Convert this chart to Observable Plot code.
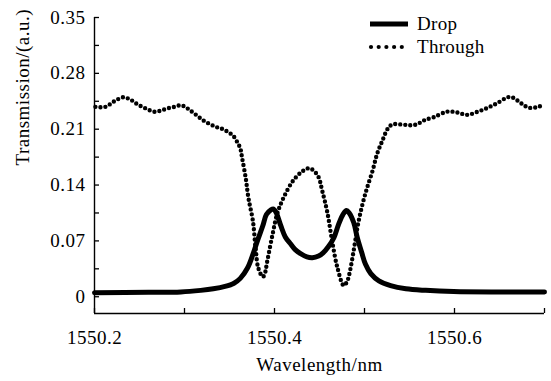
<!DOCTYPE html>
<html>
<head>
<meta charset="utf-8">
<script src="https://cdn.jsdelivr.net/npm/d3@7"></script>
<script src="https://cdn.jsdelivr.net/npm/@observablehq/plot@0.6"></script>
<style>
  body { margin: 0; background: #fff; }
  #wrap { position: relative; width: 551px; height: 381px; font-family: "Liberation Serif", "Times New Roman", serif; }
  #legend { position: absolute; left: 0; top: 0; }
</style>
</head>
<body>
<div id="wrap"></div>
<script>
// ---- data ----
const seriesNames = ["Drop", "Through"];

const dropWavelength = [1550.200, 1550.260, 1550.296, 1550.318, 1550.332, 1550.345, 1550.355, 1550.362, 1550.370, 1550.376, 1550.381,
  1550.387, 1550.391, 1550.396, 1550.399, 1550.402, 1550.407, 1550.412, 1550.418, 1550.423, 1550.429,
  1550.436, 1550.442, 1550.449, 1550.454, 1550.460, 1550.466, 1550.471, 1550.476, 1550.480, 1550.483,
  1550.488, 1550.492, 1550.497, 1550.501, 1550.507, 1550.516, 1550.529, 1550.546, 1550.568, 1550.599,
  1550.651, 1550.700];
const dropValue = [0.005, 0.0055, 0.006, 0.008, 0.010, 0.013, 0.017, 0.023, 0.036, 0.053, 0.070,
  0.089, 0.103, 0.109, 0.110, 0.105, 0.089, 0.075, 0.066, 0.059, 0.054,
  0.050, 0.049, 0.051, 0.055, 0.063, 0.074, 0.090, 0.103, 0.108, 0.105,
  0.093, 0.074, 0.055, 0.041, 0.029, 0.020, 0.014, 0.010, 0.008, 0.0065,
  0.006, 0.006];

const throughWavelength = [1550.201, 1550.212, 1550.222, 1550.232, 1550.240, 1550.248, 1550.257, 1550.266, 1550.273, 1550.281,
  1550.289, 1550.296, 1550.302, 1550.307, 1550.314, 1550.321, 1550.329, 1550.337, 1550.343, 1550.349,
  1550.354, 1550.359, 1550.362, 1550.364, 1550.368, 1550.371, 1550.376, 1550.379, 1550.382, 1550.387,
  1550.389, 1550.392, 1550.398, 1550.403, 1550.410, 1550.421, 1550.432, 1550.439, 1550.448, 1550.453,
  1550.459, 1550.464, 1550.470, 1550.477, 1550.481, 1550.484, 1550.488, 1550.493, 1550.498, 1550.503,
  1550.509, 1550.514, 1550.520, 1550.526, 1550.531, 1550.540, 1550.551, 1550.558, 1550.566, 1550.577,
  1550.592, 1550.603, 1550.614, 1550.626, 1550.637, 1550.648, 1550.659, 1550.664, 1550.670, 1550.676,
  1550.682, 1550.688, 1550.693, 1550.699];
const throughValue = [0.238, 0.238, 0.245, 0.250, 0.247, 0.241, 0.236, 0.232, 0.233, 0.236,
  0.238, 0.240, 0.237, 0.233, 0.227, 0.221, 0.216, 0.212, 0.210, 0.206,
  0.202, 0.193, 0.186, 0.174, 0.149, 0.124, 0.095, 0.061, 0.036, 0.025,
  0.028, 0.045, 0.079, 0.104, 0.124, 0.146, 0.158, 0.161, 0.152, 0.133,
  0.104, 0.070, 0.036, 0.014, 0.020, 0.033, 0.058, 0.092, 0.117, 0.137,
  0.158, 0.179, 0.196, 0.211, 0.216, 0.216, 0.215, 0.216, 0.221, 0.225,
  0.232, 0.231, 0.228, 0.232, 0.237, 0.243, 0.250, 0.250, 0.246, 0.241,
  0.237, 0.237, 0.238, 0.241];

const xMajorTicks = [1550.2, 1550.4, 1550.6];
const xAllTicks = [1550.2, 1550.3, 1550.4, 1550.5, 1550.6, 1550.7];
const yMajorTicks = [0, 0.07, 0.14, 0.21, 0.28, 0.35];
const yAllTicks = [0, 0.035, 0.07, 0.105, 0.14, 0.175, 0.21, 0.245, 0.28, 0.315, 0.35];
const xDomain = [1550.2, 1550.7];
const yDomain = [-0.021, 0.35];
const xLabel = "Wavelength/nm";
const yLabel = "Transmission/(a.u.)";

// ---- build tables ----
const drop = dropWavelength.map((w, i) => ({w, v: dropValue[i]}));
const through = throughWavelength.map((w, i) => ({w, v: throughValue[i]}));

const font = '"Liberation Serif", "Times New Roman", serif';
const fs = 19;

const chart = Plot.plot({
  width: 551,
  height: 381,
  marginLeft: 94,
  marginRight: 7,
  marginTop: 17,
  marginBottom: 68,
  style: {fontFamily: font, fontSize: fs + "px", letterSpacing: "0.5px", color: "#000", background: "#fff"},
  x: {domain: xDomain},
  y: {domain: yDomain},
  marks: [
    // axis lines
    Plot.ruleX([xDomain[0]], {stroke: "#000", strokeWidth: 1.4}),
    Plot.ruleY([yDomain[0]], {stroke: "#000", strokeWidth: 1.4}),
    // inward ticks
    Plot.axisY({ticks: yAllTicks, tickSize: 5, dx: 5, tickFormat: () => "", label: null, strokeWidth: 1.3}),
    Plot.axisX({ticks: xAllTicks, tickSize: 5, dy: -5, tickFormat: () => "", label: null, strokeWidth: 1.3}),
    // tick labels
    Plot.axisY({ticks: yMajorTicks, tickSize: 0, tickPadding: 9, tickFormat: d => d === 0 ? "0" : d3.format(".2f")(d), label: null, fontSize: fs, fontFamily: font, fill: "#000"}),
    Plot.axisX({ticks: xMajorTicks, tickSize: 0, tickPadding: 16.5, tickFormat: d => d.toFixed(1), label: null, fontSize: fs, fontFamily: font, fill: "#000"}),
    // axis titles
    Plot.text([yLabel], {frameAnchor: "left", rotate: -90, dx: -72, fontSize: fs, fontFamily: font, lineAnchor: "middle", fill: "#000"}),
    Plot.text([xLabel], {frameAnchor: "bottom", dy: 51, fontSize: fs, fontFamily: font, lineAnchor: "middle", fill: "#000"}),
    // series
    Plot.line(through, {x: "w", y: "v", stroke: "#000", strokeWidth: 4.4, strokeDasharray: "0,5", strokeLinecap: "round", curve: "catmull-rom"}),
    Plot.line(drop, {x: "w", y: "v", stroke: "#000", strokeWidth: 5, curve: "catmull-rom"})
  ]
});

const wrap = document.getElementById("wrap");
wrap.appendChild(chart);

// ---- legend (overlay) ----
const ns = "http://www.w3.org/2000/svg";
const leg = document.createElementNS(ns, "svg");
leg.setAttribute("id", "legend");
leg.setAttribute("width", 551);
leg.setAttribute("height", 70);
const ln = document.createElementNS(ns, "line");
ln.setAttribute("x1", 370); ln.setAttribute("x2", 408);
ln.setAttribute("y1", 24); ln.setAttribute("y2", 24);
ln.setAttribute("stroke", "#000"); ln.setAttribute("stroke-width", 5);
leg.appendChild(ln);
for (let i = 0; i < 5; i++) {
  const c = document.createElementNS(ns, "circle");
  c.setAttribute("cx", 371 + i * 7.7); c.setAttribute("cy", 47); c.setAttribute("r", 2.1);
  c.setAttribute("fill", "#000");
  leg.appendChild(c);
}
[[seriesNames[0], 30], [seriesNames[1], 53]].forEach(([t, y]) => {
  const tx = document.createElementNS(ns, "text");
  tx.setAttribute("x", 417); tx.setAttribute("y", y);
  tx.setAttribute("font-family", font); tx.setAttribute("font-size", fs);
  tx.setAttribute("letter-spacing", "0.3px");
  tx.setAttribute("fill", "#000");
  tx.textContent = t;
  leg.appendChild(tx);
});
wrap.appendChild(leg);
</script>
</body>
</html>
